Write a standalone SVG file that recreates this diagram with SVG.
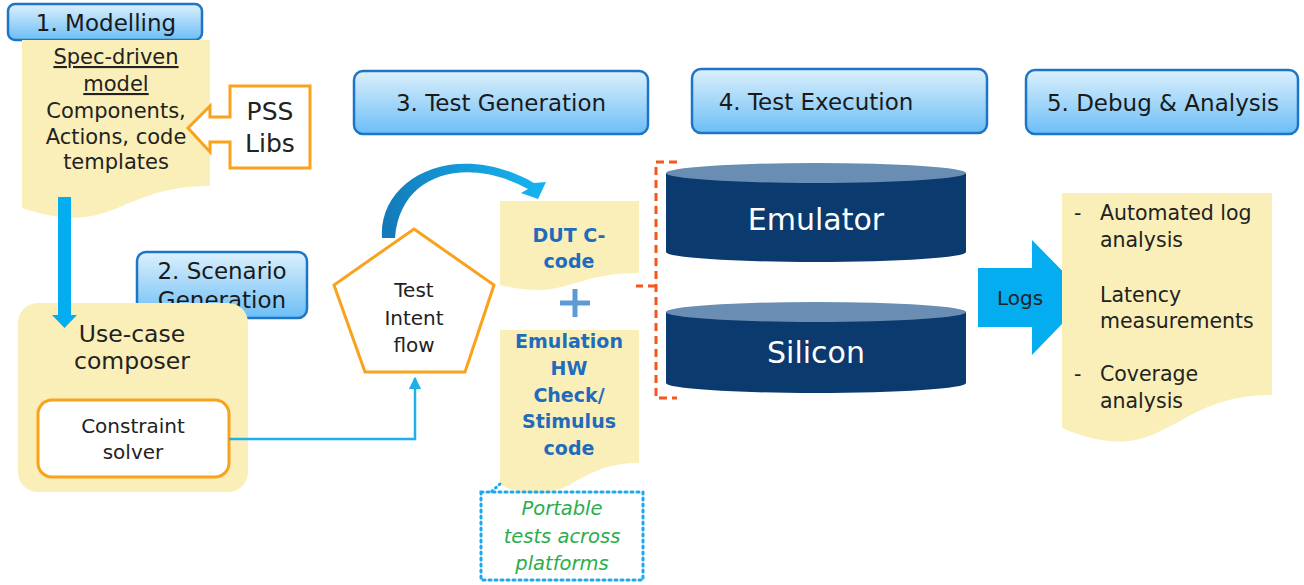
<svg xmlns="http://www.w3.org/2000/svg" width="1304" height="585" viewBox="0 0 1304 585">
<defs>
<linearGradient id="hdr" x1="0" y1="0" x2="0" y2="1">
<stop offset="0" stop-color="#dcf0fc"/>
<stop offset="1" stop-color="#6cbef6"/>
</linearGradient>
<linearGradient id="arc" gradientUnits="userSpaceOnUse" x1="389" y1="238" x2="540" y2="195">
<stop offset="0" stop-color="#1479b8"/>
<stop offset="1" stop-color="#16b2f0"/>
</linearGradient>
<marker id="ah" viewBox="0 0 10 10" refX="9" refY="5" markerWidth="5" markerHeight="5" orient="auto">
<path d="M0,0 L10,5 L0,10 Z" fill="#1fb0ec"/>
</marker>
</defs>
<style>
.hdr{fill:url(#hdr);stroke:#1e74c6;stroke-width:2.5}
.ht{font-family:"DejaVu Sans",sans-serif;font-size:23px;fill:#1a1a1a;text-anchor:middle}
.doc{fill:#faefb8}
.t{font-family:"DejaVu Sans",sans-serif;fill:#222;text-anchor:middle}
.tl{font-family:"DejaVu Sans",sans-serif;fill:#222;font-size:20.5px}
.b{font-family:"DejaVu Sans",sans-serif;font-weight:bold;fill:#1f6bbd;text-anchor:middle;font-size:19px}
.g{font-family:"DejaVu Sans",sans-serif;font-style:italic;fill:#2aae4c;text-anchor:middle;font-size:19.5px}
.or{fill:#fff;stroke:#f9a21b;stroke-width:3}
.cyl{fill:#0b3a6f}
.cylt{fill:#6a8eb3}
.ct{font-family:"DejaVu Sans",sans-serif;fill:#fff;text-anchor:middle;font-size:30px}
</style>

<g id="hdr1">
<rect class="hdr" x="8" y="4" width="194" height="36" rx="7"/>
<text class="ht" x="106" y="31" font-size="23.5">1. Modelling</text>
</g>
<g id="hdr2">
<rect class="hdr" x="137" y="252" width="170" height="66" rx="9"/>
<text class="ht" x="222" y="279" font-size="22">2. Scenario</text>
<text class="ht" x="222" y="308" font-size="22">Generation</text>
</g>
<g id="hdr3">
<rect class="hdr" x="354" y="71" width="294" height="63" rx="9"/>
<text class="ht" x="501" y="111">3. Test Generation</text>
</g>
<g id="hdr4">
<rect class="hdr" x="692" y="69" width="295" height="64" rx="9"/>
<text class="ht" x="816" y="110">4. Test Execution</text>
</g>
<g id="hdr5">
<rect class="hdr" x="1026" y="70" width="272" height="64" rx="9"/>
<text class="ht" x="1163" y="111">5. Debug &amp; Analysis</text>
</g>

<g id="spec">
<path class="doc" d="M22,40 H210 V186 C116,186 116,239 22,208 Z"/>
<text class="t" x="116" y="64" font-size="21" text-decoration="underline">Spec-driven</text>
<text class="t" x="116" y="91" font-size="21" text-decoration="underline">model</text>
<text class="t" x="116" y="118" font-size="21">Components,</text>
<text class="t" x="116" y="144" font-size="21">Actions, code</text>
<text class="t" x="116" y="169" font-size="21">templates</text>
</g>

<g id="pss">
<path class="or" d="M230,86 H310 V168 H230 V142 H210 V152 L188,128 L210,106 V117 H230 Z"/>
<text class="t" x="270" y="120" font-size="25">PSS</text>
<text class="t" x="270" y="152" font-size="25">Libs</text>
</g>

<g id="usecase">
<rect class="doc" x="18" y="303" width="230" height="189" rx="20"/>
<text class="t" x="132" y="342" font-size="23.5">Use-case</text>
<text class="t" x="132" y="369" font-size="23.5">composer</text>
<g id="solver">
<rect class="or" x="38" y="400" width="191" height="77" rx="14"/>
<text class="t" x="133" y="433" font-size="20">Constraint</text>
<text class="t" x="133" y="459" font-size="20">solver</text>
</g>
</g>

<g id="intent">
<polygon class="or" points="414,229 494,285 465,372 365,372 334,285"/>
<text class="t" x="414" y="297" font-size="20">Test</text>
<text class="t" x="414" y="325" font-size="20">Intent</text>
<text class="t" x="414" y="352" font-size="20">flow</text>
</g>

<g id="dut">
<path class="doc" d="M500,201 H639 V273 C569,273 569,301 500,285 Z"/>
<text class="b" x="569" y="242">DUT C-</text>
<text class="b" x="569" y="268">code</text>
</g>

<g id="plus">
<path d="M560,303 H590 M575,289 V317" stroke="#5c9bd6" stroke-width="5" fill="none"/>
</g>

<g id="emul">
<path class="doc" d="M500,330 H639 V463 C569,463 569,514 500,485 Z"/>
<text class="b" x="569" y="348">Emulation</text>
<text class="b" x="569" y="375">HW</text>
<text class="b" x="569" y="402">Check/</text>
<text class="b" x="569" y="428">Stimulus</text>
<text class="b" x="569" y="455">code</text>
</g>

<g id="portable">
<rect x="481" y="492" width="162" height="88" fill="none" stroke="#1aa9ee" stroke-width="3" stroke-dasharray="2,4" stroke-linecap="round"/>
<path d="M500,484 L491,492" stroke="#1aa9ee" stroke-width="3" stroke-dasharray="1,4" stroke-linecap="round"/>
<text class="g" x="562" y="515">Portable</text>
<text class="g" x="562" y="543">tests across</text>
<text class="g" x="562" y="570">platforms</text>
</g>

<g id="bracket">
<path d="M677,162 H656 V398 H677 M656,286 H636" fill="none" stroke="#f4561d" stroke-width="3" stroke-dasharray="8,5"/>
</g>

<g id="emulator">
<path class="cyl" d="M666,173 V252 A150,10 0 0 0 966,252 V173 Z"/>
<ellipse class="cylt" cx="816" cy="173" rx="150" ry="10"/>
<text class="ct" x="816" y="230">Emulator</text>
</g>

<g id="silicon">
<path class="cyl" d="M666,312 V383 A150,10 0 0 0 966,383 V312 Z"/>
<ellipse class="cylt" cx="816" cy="312" rx="150" ry="10"/>
<text class="ct" x="816" y="363">Silicon</text>
</g>

<g id="logs">
<path d="M978,268 H1032 V240 L1088,297 L1032,355 V327 H978 Z" fill="#03adef"/>
<text class="t" x="1020" y="305" font-size="20">Logs</text>
</g>

<g id="debug">
<path class="doc" d="M1062,193 H1272 V395 C1167,395 1167,472 1062,428 Z"/>
<text class="tl" x="1074" y="220">-</text>
<text class="tl" x="1100" y="220">Automated log</text>
<text class="tl" x="1100" y="247">analysis</text>
<text class="tl" x="1100" y="302">Latency</text>
<text class="tl" x="1100" y="328">measurements</text>
<text class="tl" x="1074" y="381">-</text>
<text class="tl" x="1100" y="381">Coverage</text>
<text class="tl" x="1100" y="408">analysis</text>
</g>

<g id="connectors">
<path d="M58,197 H71 V315 H77 L64.5,328 L52,315 H58 Z" fill="#03adef"/>
<path d="M229,439 H415 V378" fill="none" stroke="#1fb0ec" stroke-width="2.5" marker-end="url(#ah)"/>
<path d="M382,238 C378,178 455,138 534,183 L546,182 L538,199 L521,193 L528,189 C468,156 400,172 395,238 Z" fill="url(#arc)"/>
</g>
</svg>
